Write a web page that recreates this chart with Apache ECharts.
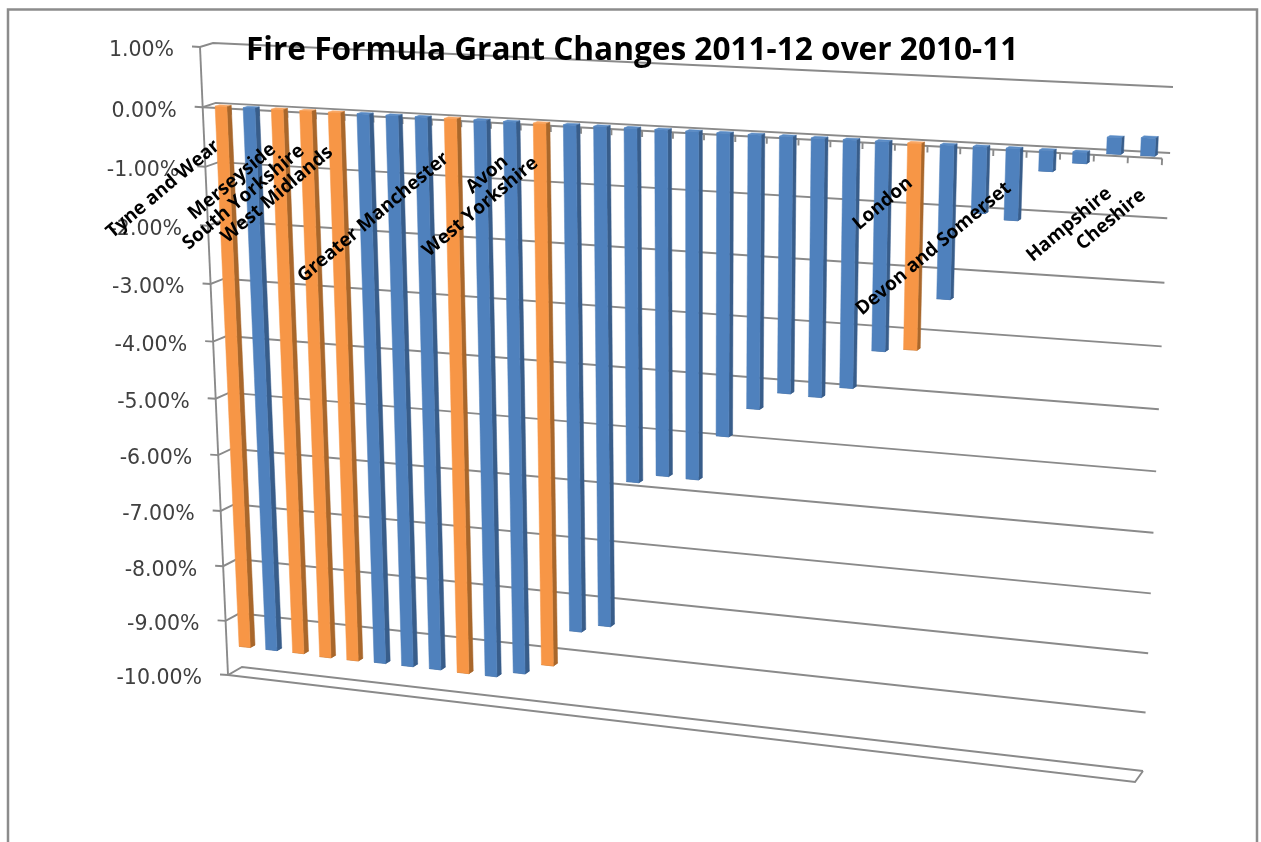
<!DOCTYPE html>
<html><head><meta charset="utf-8"><style>html,body{margin:0;background:#fff}#c{width:1261px;height:842px}</style>
<script src="https://cdn.jsdelivr.net/npm/echarts@6/dist/echarts.min.js"></script></head><body><div id="c"></div>
<script>
// Category labels (the reference only names these bars)
const categories=['Tyne and Wear','','Merseyside','South Yorkshire','West Midlands','','','','Greater Manchester','','Avon','West Yorkshire','','','','','','','','','','','','London','','','Devon and Somerset','','','Hampshire','Cheshire'];
const values=[-9.50,-9.50,-9.50,-9.52,-9.52,-9.51,-9.51,-9.51,-9.52,-9.52,-9.41,-9.21,-8.55,-8.40,-5.85,-5.70,-5.71,-4.94,-4.44,-4.14,-4.16,-3.97,-3.33,-3.27,-2.42,-1.03,-1.11,-0.32,-0.17,0.25,0.27];
const highlighted=[0,2,3,4,8,11,23];
const tickValues=[1,0,-1,-2,-3,-4,-5,-6,-7,-8,-9,-10];
const tickLabels=['1.00%','0.00%','-1.00%','-2.00%','-3.00%','-4.00%','-5.00%','-6.00%','-7.00%','-8.00%','-9.00%','-10.00%'];
const titleText='Fire Formula Grant Changes 2011-12 over 2010-11';

// Perspective of the box: the flat cartesian grid is mapped onto a back and a front plane
const BACK=[[213,43],[1173,87],[1143,771],[242,667]],FRONT=[[200,47],[1165,92],[1135,782],[228,675]];
function homography(q){const [[x0,y0],[x1,y1],[x2,y2],[x3,y3]]=q;const dx1=x1-x2,dx2=x3-x2,sx=x0-x1+x2-x3,dy1=y1-y2,dy2=y3-y2,sy=y0-y1+y2-y3,d=dx1*dy2-dx2*dy1,g=(sx*dy2-dx2*sy)/d,h=(dx1*sy-sx*dy1)/d;const a=x1-x0+g*x1,b=x3-x0+h*x3,e=y1-y0+g*y1,f=y3-y0+h*y3;return (u,v)=>{const w=g*u+h*v+1;return [(a*u+b*v+x0)/w,(e*u+f*v+y0)/w];};}
const hB=homography(BACK),hF=homography(FRONT);
function project(cs,px,py,depth){const u=(px-cs.x)/cs.width,v=(py-cs.y)/cs.height,a=hF(u,v),b=hB(u,v);return [a[0]+(b[0]-a[0])*depth,a[1]+(b[1]-a[1])*depth];}

const AXIS='#8a8a8a',LW=1.9,BLUE=['#4F81BD','#385D8A','#5B8CC6'],ORANGE=['#F79646','#A9672B','#F9A765'];
const line=(pts,extra)=>({type:'polyline',silent:true,shape:{points:pts},style:Object.assign({fill:null,stroke:AXIS,lineWidth:LW},extra||{})});

function renderGrid(params,api){
  const cs=params.coordSys,y=api.coord([0,api.value(1)])[1],L=cs.x,R=cs.x+cs.width;
  const f=project(cs,L,y,0),b=project(cs,L,y,1),r=project(cs,R,y,1);
  const kids=[line([[f[0]-8,f[1]-0.5],f,b,r])];
  kids.push({type:'text',silent:true,style:{text:tickLabels[params.dataIndex],x:f[0]-26,y:f[1]+4,align:'right',verticalAlign:'middle',fill:'#404040',font:'20.5px "DejaVu Sans"'}});
  return {type:'group',children:kids};
}
function renderFrame(params,api){
  const cs=params.coordSys,T=api.coord([0,tickValues[0]])[1],Z=api.coord([0,0])[1],Bm=api.coord([0,tickValues[tickValues.length-1]])[1],L=cs.x,R=cs.x+cs.width;
  const kids=[
    line([project(cs,L,T,0),project(cs,L,Bm,0)]),
    line([project(cs,L,Z,0),project(cs,R,Z,0)]),
    line([project(cs,L,Bm,0),project(cs,R,Bm,0),project(cs,R,Bm,1)])
  ];
  const band=cs.width/categories.length;
  for(let i=1;i<=categories.length;i++){
    const p=project(cs,L+band*i,Z,0),q=project(cs,L+band*i,api.coord([0,-0.1])[1],0);
    kids.push(line([p,q]));
  }
  return {type:'group',children:kids};
}
function renderBar(params,api){
  const cs=params.coordSys,i=api.value(0),val=api.value(1),c=api.coord([i,val]),z=api.coord([i,0]),hw=api.size([1,0])[0]*0.21;
  const x0=c[0]-hw,x1=c[0]+hw,yT=Math.min(c[1],z[1]),yB=Math.max(c[1],z[1]),d0=0.33,d1=0.67;
  const col=highlighted.includes(i)?ORANGE:BLUE;
  const poly=(pts,fill)=>({type:'polygon',silent:true,shape:{points:pts},style:{fill:fill,stroke:fill,lineWidth:0.5}});
  return {type:'group',children:[
    poly([project(cs,x0,yT,d0),project(cs,x1,yT,d0),project(cs,x1,yT,d1),project(cs,x0,yT,d1)],col[2]),
    poly([project(cs,x1,yT,d0),project(cs,x1,yT,d1),project(cs,x1,yB,d1),project(cs,x1,yB,d0)],col[1]),
    poly([project(cs,x0,yB,d0),project(cs,x1,yB,d0),project(cs,x1,yB,d1),project(cs,x0,yB,d1)],col[1]),
    poly([project(cs,x0,yT,d0),project(cs,x1,yT,d0),project(cs,x1,yB,d0),project(cs,x0,yB,d0)],col[0])
  ]};
}
function renderLabel(params,api){
  const cs=params.coordSys,i=api.value(0),c=api.coord([i,0]),p=project(cs,c[0],c[1],0.5);
  const t=categories[i];
  if(!t) return null;
  return {type:'text',silent:true,x:p[0]-6,y:p[1]+38,rotation:40*Math.PI/180,style:{text:t,x:0,y:0,align:'right',verticalAlign:'middle',fill:'#000',font:'bold 19px "Open Sans"'}};
}

const barData=values.map((v,i)=>[i,v]);
const ch=echarts.init(document.getElementById('c'));
ch.setOption({
  backgroundColor:'#fff',animation:false,
  title:{text:titleText,left:241,top:30,textStyle:{fontFamily:'Open Sans',fontWeight:'bold',fontSize:31.6,color:'#000'}},
  grid:{left:100,top:50,width:1000,height:600},
  xAxis:{type:'category',data:categories,show:false},
  yAxis:{type:'value',min:-10,max:1,interval:1,show:false},
  graphic:[{type:'polyline',silent:true,z:-1,shape:{points:[[8,842],[8,9.5],[1257,9.5],[1257,842]]},style:{fill:null,stroke:'#8c8c8c',lineWidth:2.5}}],
  series:[
    {type:'custom',name:'grid',z:1,renderItem:renderGrid,data:tickValues.map(v=>[0,v])},
    {type:'custom',name:'frame',z:2,renderItem:renderFrame,data:[[0,0]]},
    {type:'custom',name:'Change',z:3,renderItem:renderBar,data:barData},
    {type:'custom',name:'labels',z:4,renderItem:renderLabel,data:barData}
  ]
});
</script></body></html>
